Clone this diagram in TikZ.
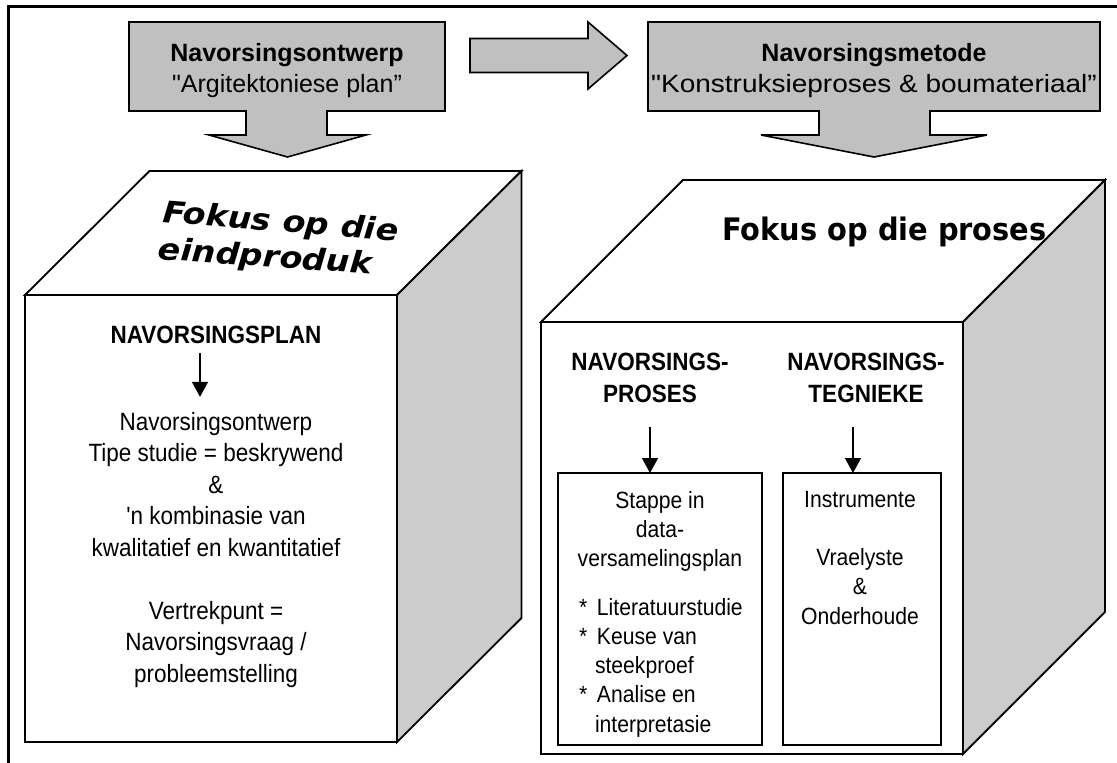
\documentclass[tikz,border=0pt]{standalone}
\usepackage{fontspec}
\setmainfont{Liberation Sans}[Ligatures=TeXOff]
\newfontfamily\nfont{Liberation Sans}[FakeStretch=0.9,Ligatures=TeXOff]
\newfontfamily\wfont{Liberation Sans}[FakeStretch=1.12,Ligatures=TeXOff]
\newfontfamily\waleft{DejaVu Sans}[FakeStretch=1.11]
\newfontfamily\waright{DejaVu Sans}[FakeStretch=0.93]
\usetikzlibrary{arrows.meta}
\definecolor{boxgray}{RGB}{192,192,192}
\definecolor{sidegray}{RGB}{204,204,204}
\begin{document}
\begin{tikzpicture}[x=1pt,y=-1pt,
  cube/.style={draw=black,line width=1.8pt,line join=miter},
  block/.style={draw=black,fill=boxgray,line width=1.6pt,line join=miter},
  inbox/.style={draw=black,line width=1.4pt,inner sep=0pt,outer sep=0pt,anchor=north west},
  txt/.style={inner sep=0pt,outer sep=0pt},
  arr/.style={line width=1.3pt,-{Triangle[width=16pt,length=15pt]}},
  topfont/.style={font=\fontsize{25}{31}\selectfont},
  headfont/.style={font=\nfont\bfseries\fontsize{25}{32}\selectfont},
  bodyfont/.style={font=\nfont\fontsize{25}{31.5}\selectfont},
  smallfont/.style={font=\nfont\fontsize{23.5}{29.3}\selectfont}
]
\useasboundingbox (0,0) rectangle (1117,763);
% outer frame
\draw[line width=2.6pt] (8.5,763) -- (8.5,6.5) -- (1117,6.5);

% top-left callout block
\draw[block] (129,22) -- (445,22) -- (445,111) -- (327,111) -- (327,135) -- (366,135)
  -- (287.5,157) -- (209,135) -- (246,135) -- (246,111) -- (129,111) -- cycle;
\node[txt,topfont,anchor=base,align=center] (ontwerp) at (287,92)
  {\textbf{Navorsingsontwerp}\\"Argitektoniese plan”};

% right block arrow
\draw[block] (470,38.5) -- (588,38.5) -- (588,22) -- (627,55.5) -- (588,89) -- (588,72.5)
  -- (470,72.5) -- cycle;

% top-right callout block
\draw[block] (648,22) -- (1100,22) -- (1100,111) -- (930,111) -- (930,135) -- (987,135)
  -- (874,157) -- (761,135) -- (819,135) -- (819,111) -- (648,111) -- cycle;
\node[txt,topfont,anchor=base,align=center] (metode) at (874,92)
  {\textbf{Navorsingsmetode}\\{\wfont "Konstruksieproses \& boumateriaal”}};

% left cube
\draw[cube,fill=white] (25,295) -- (149.5,171) -- (521.5,171) -- (397,295) -- cycle;
\draw[cube,fill=sidegray] (397,295) -- (521.5,171) -- (521.5,618) -- (397,742) -- cycle;
\draw[cube,fill=white] (25,295) rectangle (397,742);

% right cube
\draw[cube,fill=white] (541,322) -- (683,180) -- (1105,180) -- (963,322) -- cycle;
\draw[cube,fill=sidegray] (963,322) -- (1105,180) -- (1105,612) -- (963,754) -- cycle;
\draw[cube,fill=white] (541,322) rectangle (963,754);

% WordArt titles
\node[txt,anchor=base,rotate=-4.5,font=\waleft\bfseries\itshape\fontsize{30}{36}\selectfont]
  (wa1) at (280,231.5) {Fokus op die};
\node[txt,anchor=base,rotate=-4,font=\waleft\bfseries\itshape\fontsize{30}{36}\selectfont]
  (wa2) at (264.5,266.5) {eindproduk};
\node[txt,anchor=base,font=\waright\bfseries\fontsize{31}{37}\selectfont]
  (wa3) at (884.5,240) {Fokus op die proses};

% left cube content
\node[txt,headfont,anchor=base] (plan) at (216,343) {NAVORSINGSPLAN};
\node[txt,bodyfont,anchor=base,align=center] (lbody) at (216,682)
  {Navorsingsontwerp\\Tipe studie = beskrywend\\\&\\'n kombinasie van\\kwalitatief en kwantitatief\\[31.5pt]Vertrekpunt =\\Navorsingsvraag /\\probleemstelling};
\coordinate (lax) at (200,0);
\draw[arr,shorten <=10pt,shorten >=15pt] (plan.south -| lax) -- (lbody.north -| lax);

% right cube content
\node[txt,headfont,anchor=base,align=center] (proses) at (650,402) {NAVORSINGS-\\PROSES};
\node[txt,headfont,anchor=base,align=center] (tegnieke) at (866,402) {NAVORSINGS-\\TEGNIEKE};
\node[inbox,minimum width=204pt,minimum height=272pt] (bx1) at (558,473) {};
\node[inbox,minimum width=158pt,minimum height=272pt] (bx2) at (783,473) {};
\coordinate (ax1) at (650,0);
\coordinate (ax2) at (853,0);
\draw[arr,shorten <=25pt] (proses.south -| ax1) -- (bx1.north -| ax1);
\draw[arr,shorten <=25pt] (tegnieke.south -| ax2) -- (bx2.north -| ax2);

\node[txt,smallfont,anchor=base,align=center] (stappe) at (660,566.6)
  {Stappe in\\data-\\versamelingsplan};
\node[txt,smallfont,anchor=base west,align=left] (lys) at (579,732.2)
  {\makebox[18pt][l]{*}Literatuurstudie\\\makebox[18pt][l]{*}Keuse van\\\hspace*{16pt}steekproef\\\makebox[18pt][l]{*}Analise en\\\hspace*{16pt}interpretasie};
\node[txt,smallfont,anchor=base,align=center] (instr) at (860,624.2)
  {Instrumente\\[29.3pt]Vraelyste\\\&\\Onderhoude};
\end{tikzpicture}
\end{document}
